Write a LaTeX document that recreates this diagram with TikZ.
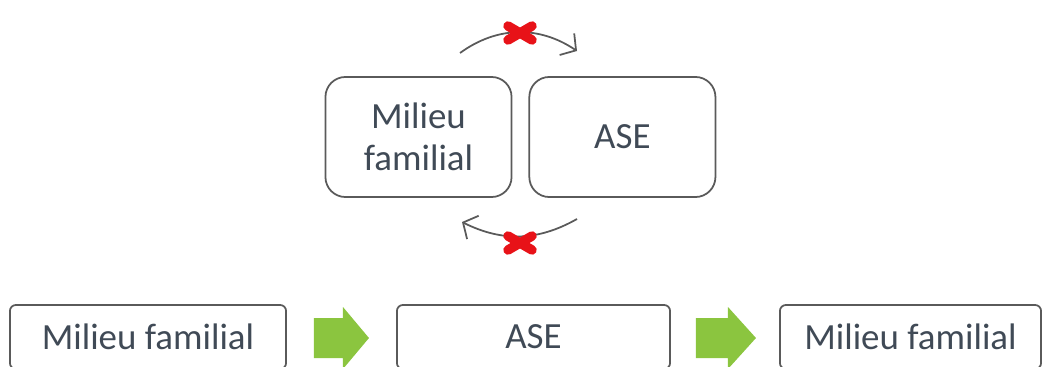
\documentclass[tikz,border=0pt]{standalone}
\usepackage{fontspec}
\setmainfont{Carlito}
\usepackage{tikz}
\usetikzlibrary{positioning, calc, arrows.meta}
\definecolor{textgray}{RGB}{64,74,86}
\definecolor{linegray}{RGB}{90,90,90}
\definecolor{arrowgreen}{RGB}{139,197,63}
\definecolor{crossred}{RGB}{232,18,24}

\begin{document}
\begin{tikzpicture}[x=0.01cm, y=-0.01cm,
    bigbox/.style={draw=linegray, line width=0.5pt, rounded corners=0.2cm,
        minimum width=1.86cm, minimum height=1.2cm, text=textgray, align=center,
        font=\fontsize{10.5}{12}\selectfont},
    flowbox/.style={draw=linegray, line width=0.5pt, rounded corners=0.06cm,
        minimum height=0.64cm, text=textgray, font=\fontsize{10.5}{12}\selectfont},
    cyclearc/.style={draw=linegray, line width=0.5pt,
        -{Straight Barb[length=1.1mm,width=2.6mm]}},
    redx/.style={draw=crossred, line width=0.095cm, line cap=round}]
    \useasboundingbox (0,0) rectangle (1043,367);
    \clip (0,0) rectangle (1043,367);

    % 上の箱
    \node[bigbox] (milieu) at (418.5,137) {Milieu\\familial};
    \node[bigbox, right=0.16cm of milieu] (ase) {ASE};

    % 弧の矢印
    \coordinate (topstart) at (460,53);
    \coordinate (topend) at (577,51);
    \draw[cyclearc] (topstart) to[bend left=35] (topend);
    \coordinate (botstart) at (577,219);
    \coordinate (botend) at (462,222);
    \draw[cyclearc] (botstart) to[bend left=28] (botend);

    % 赤いバツ
    \draw[redx] (508,26) -- (532,40) (508,40) -- (532,26);
    \draw[redx] (508,236) -- (532,250) (508,250) -- (532,236);

    % 下の流れ
    \node[flowbox, minimum width=2.76cm] (fam1) at (148,337) {Milieu familial};
    \node[flowbox, minimum width=2.73cm] (ase2) at (533.5,337) {ASE};
    \node[flowbox, minimum width=2.61cm] (fam2) at (910.5,337) {Milieu familial};

    % 緑の矢印
    \fill[arrowgreen] ($(fam1.east)+(27,-19)$) -- ++(29,0) -- ++(0,-11) -- ++(26,31)
        -- ++(-26,31) -- ++(0,-11) -- ++(-29,0) -- cycle;
    \fill[arrowgreen] ($(ase2.east)+(25,-19)$) -- ++(32,0) -- ++(0,-11) -- ++(28,31)
        -- ++(-28,31) -- ++(0,-11) -- ++(-32,0) -- cycle;
\end{tikzpicture}
\end{document}
